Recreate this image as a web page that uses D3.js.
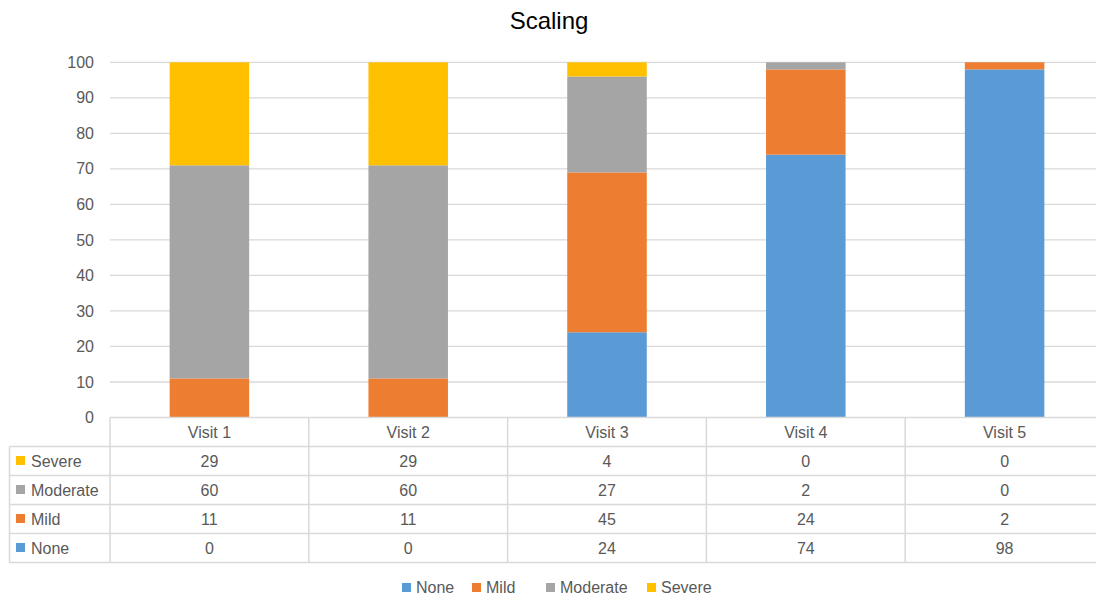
<!DOCTYPE html>
<html>
<head>
<meta charset="utf-8">
<script src="https://cdn.jsdelivr.net/npm/d3@7"></script>
<style>
  html, body { margin: 0; padding: 0; background: #fff; }
  svg { display: block; }
  text { font-family: "Liberation Sans", Arial, sans-serif; }
</style>
</head>
<body>
<svg id="chart" width="1096" height="596"></svg>
<script>
const title = "Scaling";
const categories = ["Visit 1", "Visit 2", "Visit 3", "Visit 4", "Visit 5"];
const seriesNames = ["None", "Mild", "Moderate", "Severe"];
const noneValues = [0, 0, 24, 74, 98];
const mildValues = [11, 11, 45, 24, 2];
const moderateValues = [60, 60, 27, 2, 0];
const severeValues = [29, 29, 4, 0, 0];
const yTicks = [0, 10, 20, 30, 40, 50, 60, 70, 80, 90, 100];
const colors = ["#5b9bd5", "#ed7d31", "#a5a5a5", "#ffc000"];

const seriesValues = [noneValues, mildValues, moderateValues, severeValues];
const rows = categories.map((c, i) => {
  const r = { cat: c };
  seriesNames.forEach((s, k) => r[s] = seriesValues[k][i]);
  return r;
});

const svg = d3.select("#chart");
const W = 1096, H = 596;
const plotLeft = 110, plotTop = 62.3, plotBottom = 417.5;
const colW = 198.8;
const plotRight = plotLeft + colW * categories.length;

const x = d3.scaleBand().domain(categories).range([plotLeft, plotRight]).paddingInner(0.6).paddingOuter(0.3);
const xc = d3.scaleBand().domain(categories).range([plotLeft, plotRight]).padding(0);
const y = d3.scaleLinear().domain([0, 100]).range([plotBottom, plotTop]);
const color = d3.scaleOrdinal().domain(seriesNames).range(colors);

const textColor = "#595959";
const gridColor = "#d9d9d9";

// Title
svg.append("text").attr("x", 549).attr("y", 29).attr("text-anchor", "middle")
  .attr("font-size", 24).attr("fill", "#000").text(title);

// Gridlines
svg.append("g").selectAll("line").data(yTicks.filter(t => t > 0)).join("line")
  .attr("x1", plotLeft).attr("x2", W).attr("y1", d => y(d)).attr("y2", d => y(d))
  .attr("stroke", gridColor).attr("stroke-width", 1.3);

// Y axis labels
const yAxis = d3.axisLeft(y).tickValues(yTicks).tickSize(0).tickPadding(0);
const ga = svg.append("g").attr("transform", `translate(${plotLeft - 16},0)`).call(yAxis);
ga.select(".domain").remove();
ga.selectAll("text").attr("font-size", 16).attr("fill", textColor)
  .attr("font-family", "'Liberation Sans', Arial, sans-serif");

// Bars
const stack = d3.stack().keys(seriesNames)(rows);
svg.append("g").selectAll("g").data(stack).join("g")
  .attr("fill", d => color(d.key))
  .selectAll("rect").data(d => d).join("rect")
  .attr("x", d => x(d.data.cat))
  .attr("width", x.bandwidth())
  .attr("y", d => y(d[1]))
  .attr("height", d => Math.max(0, y(d[0]) - y(d[1])));

// Data table
const rowH = 29;
const tableTop = plotBottom;
const tableRows = seriesNames.slice().reverse();
const tableLeft = 9.5;
const tg = svg.append("g");
const lineStyle = sel => sel.attr("stroke", gridColor).attr("stroke-width", 1.5).attr("fill", "none");

// horizontal lines
const hLines = [0, 1, 2, 3, 4, 5];
tg.selectAll("line.h").data(hLines).join("line").attr("class", "h")
  .attr("x1", d => d === 0 ? plotLeft : tableLeft).attr("x2", W)
  .attr("y1", d => tableTop + d * rowH).attr("y2", d => tableTop + d * rowH)
  .call(lineStyle);
// vertical lines
const vXs = [plotLeft].concat(categories.map(c => xc(c) + xc.bandwidth()));
tg.selectAll("line.v").data(vXs).join("line").attr("class", "v")
  .attr("x1", d => d).attr("x2", d => d)
  .attr("y1", tableTop).attr("y2", tableTop + 5 * rowH)
  .call(lineStyle);
tg.append("line").attr("x1", tableLeft).attr("x2", tableLeft)
  .attr("y1", tableTop + rowH).attr("y2", tableTop + 5 * rowH).call(lineStyle);

// header
tg.selectAll("text.hdr").data(categories).join("text").attr("class", "hdr")
  .attr("x", d => xc(d) + xc.bandwidth() / 2).attr("y", tableTop + rowH / 2 + 6)
  .attr("text-anchor", "middle").attr("font-size", 16).attr("fill", textColor).text(d => d);

// rows
tableRows.forEach((s, i) => {
  const cy = tableTop + (i + 1) * rowH + rowH / 2;
  tg.append("rect").attr("x", 16).attr("y", cy - 5).attr("width", 9).attr("height", 9).attr("fill", color(s));
  tg.append("text").attr("x", 31).attr("y", cy + 6).attr("font-size", 16).attr("fill", textColor).text(s);
  const vals = seriesValues[seriesNames.indexOf(s)];
  tg.selectAll("text.v" + i).data(categories).join("text").attr("class", "v" + i)
    .attr("x", d => xc(d) + xc.bandwidth() / 2).attr("y", cy + 6)
    .attr("text-anchor", "middle").attr("font-size", 16).attr("fill", textColor)
    .text((d, j) => vals[j]);
});

// Legend
const legendXs = [402, 472, 546, 647];
const lg = svg.append("g");
seriesNames.forEach((s, i) => {
  lg.append("rect").attr("x", legendXs[i]).attr("y", 583).attr("width", 9).attr("height", 9).attr("fill", color(s));
  lg.append("text").attr("x", legendXs[i] + 14).attr("y", 592.5).attr("font-size", 16).attr("fill", textColor).text(s);
});
</script>
</body>
</html>
